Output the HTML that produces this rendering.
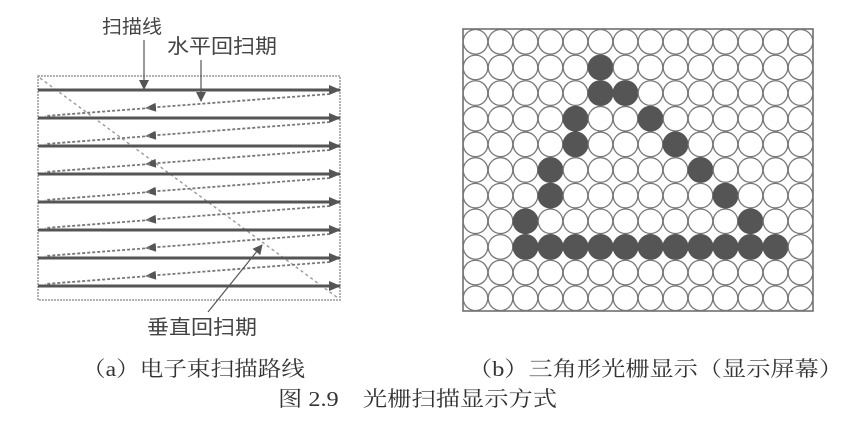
<!DOCTYPE html>
<html><head><meta charset="utf-8"><style>
html,body{margin:0;padding:0;background:#fff;}
svg{display:block;}
text{font-family:"Liberation Serif","Noto Serif CJK SC",serif;fill:#333;}
.l{font-family:"Liberation Sans","Noto Sans CJK SC",sans-serif;fill:#444;}
</style></head><body>
<svg width="856" height="435" viewBox="0 0 856 435" xmlns="http://www.w3.org/2000/svg">
<defs>
<marker id="ar" markerWidth="12" markerHeight="10" refX="11" refY="5" orient="auto" markerUnits="userSpaceOnUse">
<path d="M0,0 L12,5 L0,10 Z" fill="#555"/></marker>
<marker id="al" markerWidth="11" markerHeight="9" refX="10" refY="4.5" orient="auto" markerUnits="userSpaceOnUse">
<path d="M0,0 L11,4.5 L0,9 Z" fill="#555"/></marker>
<marker id="ad" markerWidth="10" markerHeight="10" refX="9" refY="5" orient="auto" markerUnits="userSpaceOnUse">
<path d="M0,0 L10,5 L0,10 Z" fill="#555"/></marker>
</defs>
<!-- left diagram -->
<rect x="38" y="76" width="302" height="224" fill="none" stroke="#999" stroke-width="1.5" stroke-dasharray="2,1"/>
<line x1="40" y1="78" x2="338" y2="298" stroke="#999" stroke-width="1.4" stroke-dasharray="3,3"/>
<g stroke="#555" stroke-width="3">
<line x1="38" y1="90" x2="340" y2="90" marker-end="url(#ar)"/>
<line x1="38" y1="118" x2="340" y2="118" marker-end="url(#ar)"/>
<line x1="38" y1="146" x2="340" y2="146" marker-end="url(#ar)"/>
<line x1="38" y1="174" x2="340" y2="174" marker-end="url(#ar)"/>
<line x1="38" y1="202" x2="340" y2="202" marker-end="url(#ar)"/>
<line x1="38" y1="230" x2="340" y2="230" marker-end="url(#ar)"/>
<line x1="38" y1="258" x2="340" y2="258" marker-end="url(#ar)"/>
<line x1="38" y1="286" x2="340" y2="286" marker-end="url(#ar)"/>
</g>
<g stroke="#777" stroke-width="1.8" stroke-dasharray="3,2" fill="none">
<path d="M330,94 L146,108" marker-end="url(#al)"/><path d="M150,108 L45,116"/>
<path d="M330,122 L146,136" marker-end="url(#al)"/><path d="M150,136 L45,144"/>
<path d="M330,150 L146,164" marker-end="url(#al)"/><path d="M150,164 L45,172"/>
<path d="M330,178 L146,192" marker-end="url(#al)"/><path d="M150,192 L45,200"/>
<path d="M330,206 L146,220" marker-end="url(#al)"/><path d="M150,220 L45,228"/>
<path d="M330,234 L146,248" marker-end="url(#al)"/><path d="M150,248 L45,256"/>
<path d="M330,262 L146,276" marker-end="url(#al)"/><path d="M150,276 L45,284"/>
</g>
<line x1="144" y1="40" x2="144" y2="89" stroke="#555" stroke-width="1.2" marker-end="url(#ad)"/>
<line x1="201" y1="60" x2="201" y2="101" stroke="#555" stroke-width="1.2" marker-end="url(#ad)"/>
<line x1="208" y1="312" x2="262" y2="245" stroke="#555" stroke-width="1.2" marker-end="url(#ad)"/>
<text class="l" x="102" y="33" font-size="19" textLength="60" lengthAdjust="spacingAndGlyphs">扫描线</text>
<text class="l" x="167" y="53" font-size="20" textLength="110" lengthAdjust="spacingAndGlyphs">水平回扫期</text>
<text class="l" x="147" y="334" font-size="20" textLength="110" lengthAdjust="spacingAndGlyphs">垂直回扫期</text>
<!-- right grid -->
<rect x="463" y="29" width="350" height="282" fill="none" stroke="#666" stroke-width="1.5"/>
<text x="82" y="376" font-size="21" textLength="223" lengthAdjust="spacingAndGlyphs">（a）电子束扫描路线</text>
<text x="468" y="376" font-size="21" textLength="375" lengthAdjust="spacingAndGlyphs">（b）三角形光栅显示（显示屏幕）</text>
<text x="278" y="406" font-size="21" textLength="279" lengthAdjust="spacingAndGlyphs">图 2.9　光栅扫描显示方式</text>
<g id="circles"></g>
</svg>
<script>
(function(){
var g=document.getElementById('circles'),ns='http://www.w3.org/2000/svg';
var filled={'1,5':1,'2,5':1,'2,6':1,'3,4':1,'3,7':1,'4,4':1,'4,8':1,'5,3':1,'5,9':1,'6,3':1,'6,10':1,'7,2':1,'7,11':1};
for(var c=2;c<=12;c++)filled['8,'+c]=1;
for(var r=0;r<11;r++)for(var c=0;c<14;c++){
 var e=document.createElementNS(ns,'circle');
 e.setAttribute('cx',463+12.5+c*25);e.setAttribute('cy',29+12.8+r*25.64);e.setAttribute('r',12.3);
 if(filled[r+','+c]){e.setAttribute('fill','#555');e.setAttribute('stroke','#555');}
 else{e.setAttribute('fill','none');e.setAttribute('stroke','#777');}
 e.setAttribute('stroke-width','1.3');g.appendChild(e);}
})();
</script>
</body></html>
